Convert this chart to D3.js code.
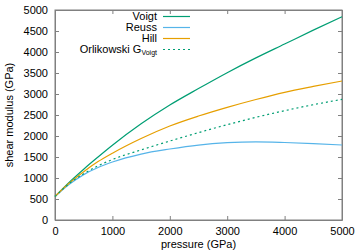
<!DOCTYPE html>
<html>
<head>
    <script src="https://d3js.org/d3.v7.min.js"></script>
    <style>
        body { margin: 0; background: #fff; }
        text { font-family: "Liberation Sans", Arial, sans-serif; font-size: 11px; fill: #000; }
        .frame line, .frame path { stroke: #808080; }
    </style>
</head>
<body>
<div id="chart"></div>
<script>
    const pressure = [0, 250, 500, 750, 1000, 1500, 2000, 2500, 3000, 3500, 4000, 4500, 5000];
    const voigt    = [560, 900, 1210, 1500, 1780, 2290, 2738, 3130, 3508, 3860, 4190, 4520, 4840];
    const reuss    = [560, 850, 1080, 1250, 1380, 1570, 1690, 1785, 1840, 1860, 1845, 1820, 1786];
    const hill     = [560, 880, 1150, 1390, 1590, 1940, 2238, 2475, 2683, 2870, 3040, 3180, 3310];
    const orlik    = [560, 870, 1100, 1290, 1440, 1670, 1880, 2080, 2270, 2445, 2603, 2745, 2873];
    const xTicks = [0, 1000, 2000, 3000, 4000, 5000];
    const yTicks = [0, 500, 1000, 1500, 2000, 2500, 3000, 3500, 4000, 4500, 5000];

    const width = 360, height = 252;
    const margin = { top: 10, right: 18, bottom: 32, left: 55 };
    const w = width - margin.left - margin.right;
    const h = height - margin.top - margin.bottom;

    const svg = d3.select('#chart').append('svg')
        .attr('width', width).attr('height', height);
    const g = svg.append('g').attr('transform', `translate(${margin.left},${margin.top})`);

    const x = d3.scaleLinear().domain([0, 5000]).range([0, w]);
    const y = d3.scaleLinear().domain([0, 5000]).range([h, 0]);
    const fmt = d3.format('d');

    // axes with inward ticks, mirrored on top and right
    const frame = g.append('g').attr('class', 'frame');
    frame.append('g').attr('transform', `translate(0,${h})`)
        .call(d3.axisBottom(x).tickValues(xTicks).tickFormat(fmt).tickSizeInner(-4).tickSizeOuter(0).tickPadding(7));
    frame.append('g')
        .call(d3.axisLeft(y).tickValues(yTicks).tickFormat(fmt).tickSizeInner(-4).tickSizeOuter(0).tickPadding(7));
    frame.append('g')
        .call(d3.axisTop(x).tickValues(xTicks).tickSizeInner(-4).tickSizeOuter(0).tickFormat(''));
    frame.append('g').attr('transform', `translate(${w},0)`)
        .call(d3.axisRight(y).tickValues(yTicks).tickSizeInner(-4).tickSizeOuter(0).tickFormat(''));
    frame.selectAll('.tick text').attr('font-size', 11).attr('font-family', '"Liberation Sans", Arial, sans-serif').attr('fill', '#000');
    g.append('rect').attr('width', w).attr('height', h)
        .attr('fill', 'none').attr('stroke', '#808080').attr('stroke-width', 1);

    const series = [
        { name: 'Voigt', values: voigt, color: '#009e73', dash: null },
        { name: 'Reuss', values: reuss, color: '#56b4e9', dash: null },
        { name: 'Hill', values: hill, color: '#e69f00', dash: null },
        { name: 'Orlikowski G', sub: 'Voigt', values: orlik, color: '#009e73', dash: '2,3' }
    ];

    const line = d3.line()
        .x((d, i) => x(pressure[i]))
        .y(d => y(d))
        .curve(d3.curveMonotoneX);

    series.forEach(s => {
        g.append('path')
            .attr('d', line(s.values))
            .attr('fill', 'none')
            .attr('stroke', s.color)
            .attr('stroke-width', 1.2)
            .attr('stroke-dasharray', s.dash);
    });

    // legend
    const legend = g.append('g').attr('transform', 'translate(0,6.5)');
    series.forEach((s, i) => {
        const row = legend.append('g').attr('transform', `translate(0,${i * 11})`);
        const t = row.append('text')
            .attr('x', 102).attr('y', 3.4)
            .attr('font-size', 9.5)
            .attr('text-anchor', 'end')
            .text(s.name);
        if (s.sub) {
            t.append('tspan').attr('dy', 2.3).attr('font-size', 7).text(s.sub);
        }
        row.append('line')
            .attr('x1', 108).attr('x2', 135)
            .attr('stroke', s.color).attr('stroke-width', 1.2)
            .attr('stroke-dasharray', s.dash);
    });

    svg.append('text')
        .attr('x', margin.left + w / 2).attr('y', 248)
        .attr('text-anchor', 'middle')
        .text('pressure (GPa)');
    svg.append('text')
        .attr('transform', `translate(13,${margin.top + h / 2}) rotate(-90)`)
        .attr('text-anchor', 'middle')
        .text('shear modulus (GPa)');
</script>
</body>
</html>
